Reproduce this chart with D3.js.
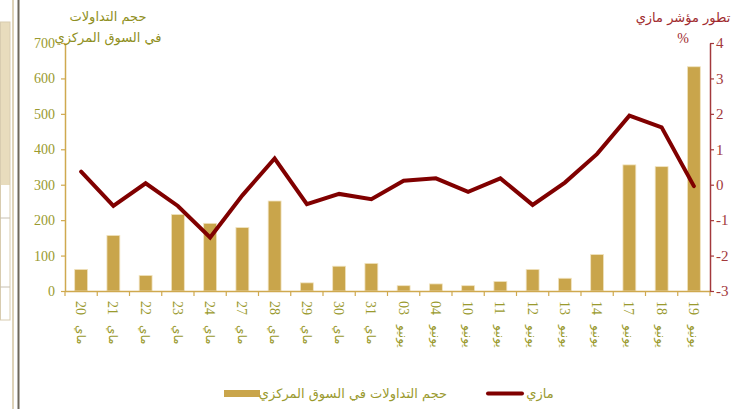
<!DOCTYPE html>
<html><head><meta charset="utf-8">
<script src="https://cdn.jsdelivr.net/npm/d3@7/dist/d3.min.js"></script>
<style>
html,body{margin:0;padding:0;background:#fff;overflow:hidden}
svg{display:block}
</style></head>
<body>
<svg id="c" width="731" height="409"></svg>
<script>
const days = ["20","21","22","23","24","27","28","29","30","31","03","04","10","11","12","13","14","17","18","19"];
const months = ["ماي","ماي","ماي","ماي","ماي","ماي","ماي","ماي","ماي","ماي","يونيو","يونيو","يونيو","يونيو","يونيو","يونيو","يونيو","يونيو","يونيو","يونيو"];
const volume = [61,157,44,216,191,179,254,23,70,78,15,20,15,27,61,36,103,356,351,633];
const mazi = [0.37,-0.60,0.04,-0.60,-1.49,-0.30,0.74,-0.55,-0.26,-0.41,0.11,0.18,-0.20,0.18,-0.57,0.06,0.87,1.95,1.62,-0.04];
const leftTicks = [0,100,200,300,400,500,600,700];
const rightTicks = [-3,-2,-1,0,1,2,3,4];
const leftTitle = ["حجم التداولات","في السوق المركزي"];
const rightTitle = ["تطور مؤشر مازي","%"];
const legendBar = "حجم التداولات في السوق المركزي";
const legendLine = "مازي";

const svg = d3.select("#c");
const L = 65, R = 710, T = 43, B = 291;
const olive = "#9a9a2e", gold = "#cfa94f", barFill = "#c9a54b", red = "#800000", redAxis = "#a3393c";
const serif = "'Liberation Serif','Times New Roman',serif";
const arab = "'DejaVu Sans',sans-serif";

// page decorations on the left
svg.append("rect").attr("x",0).attr("y",22).attr("width",10).attr("height",163).attr("fill","#e8dcbd");
svg.append("rect").attr("x",0.5).attr("y",22).attr("width",9.5).attr("height",298).attr("fill","none").attr("stroke","#d8ccb0");
svg.append("line").attr("x1",0).attr("x2",10).attr("y1",218).attr("y2",218).attr("stroke","#c8c0b0");
svg.append("line").attr("x1",0).attr("x2",10).attr("y1",287).attr("y2",287).attr("stroke","#c8c0b0");
svg.append("rect").attr("x",12).attr("y",0).attr("width",2).attr("height",409).attr("fill","#ddd2b8");
svg.append("rect").attr("x",17.5).attr("y",0).attr("width",2).attr("height",409).attr("fill","#6e685c");

const x = d3.scaleBand().domain(d3.range(days.length)).range([L,R]).paddingInner(0.6).paddingOuter(0.3);
const yL = d3.scaleLinear().domain([0,700]).range([B,T]);
const yR = d3.scaleLinear().domain([-3,4]).range([B,T]);

// bars
svg.append("g").selectAll("rect").data(volume).join("rect")
  .attr("x",(d,i)=>x(i)).attr("width",x.bandwidth())
  .attr("y",d=>yL(d)).attr("height",d=>yL(0)-yL(d))
  .attr("fill",barFill).attr("stroke","#f1e4c0").attr("stroke-width",0.8);

// x axis
const step = x.step();
const gx = svg.append("g");
gx.append("line").attr("x1",L).attr("x2",R).attr("y1",B+0.5).attr("y2",B+0.5).attr("stroke",gold).attr("stroke-width",1.5);
gx.selectAll("line.t").data(d3.range(days.length+1)).join("line").attr("class","t")
  .attr("x1",i=>L+i*step).attr("x2",i=>L+i*step).attr("y1",B).attr("y2",B+5)
  .attr("stroke",gold).attr("stroke-width",1.2);
const lab = gx.selectAll("g.l").data(days).join("g").attr("class","l")
  .attr("transform",(d,i)=>`translate(${x(i)+x.bandwidth()/2},300) rotate(90)`);
lab.append("text").text(d=>d).attr("x",1).attr("dy","0.35em")
  .attr("font-family",serif).attr("font-size",14).attr("fill",olive);
lab.append("text").text((d,i)=>months[i]).attr("x",25).attr("dy","0.35em")
  .attr("font-family",arab).attr("font-size",12).attr("fill",olive);

// left axis
const ga = svg.append("g").attr("transform",`translate(${L},0)`)
  .call(d3.axisLeft(yL).tickValues(leftTicks).tickSize(4).tickSizeOuter(0).tickPadding(6));
ga.select(".domain").attr("stroke",gold).attr("stroke-width",1.5);
ga.selectAll(".tick line").attr("stroke",gold).attr("stroke-width",1.2);
ga.selectAll(".tick text").attr("font-family",serif).attr("font-size",14).attr("fill",olive);

// right axis
const gr = svg.append("g").attr("transform",`translate(${R},0)`)
  .call(d3.axisRight(yR).tickValues(rightTicks).tickSize(4).tickSizeOuter(0).tickPadding(2).tickFormat(d=>String(d)));
gr.select(".domain").attr("stroke",redAxis).attr("stroke-width",1.5);
gr.selectAll(".tick line").attr("stroke",redAxis).attr("stroke-width",1.2);
gr.selectAll(".tick text").attr("font-family",serif).attr("font-size",15).attr("fill",redAxis);

// line
const line = d3.line().x((d,i)=>x(i)+x.bandwidth()/2).y(d=>yR(d));
svg.append("path").datum(mazi).attr("d",line).attr("fill","none")
  .attr("stroke",red).attr("stroke-width",4).attr("stroke-linejoin","miter").attr("stroke-linecap","round");

// titles
svg.append("text").text(leftTitle[0]).attr("x",108).attr("y",21).attr("text-anchor","middle")
  .attr("font-family",arab).attr("font-size",13).attr("fill","#8f8f22");
svg.append("text").text(leftTitle[1]).attr("x",108).attr("y",42).attr("text-anchor","middle")
  .attr("font-family",arab).attr("font-size",13).attr("fill","#8f8f22");
svg.append("text").text(rightTitle[0]).attr("x",683).attr("y",22).attr("text-anchor","middle")
  .attr("font-family",arab).attr("font-size",13).attr("fill","#a02a2e");
svg.append("text").text(rightTitle[1]).attr("x",683).attr("y",43).attr("text-anchor","middle")
  .attr("font-family",serif).attr("font-size",14).attr("fill","#a02a2e");

// legend
svg.append("rect").attr("x",224).attr("y",390).attr("width",36).attr("height",7).attr("fill",barFill);
svg.append("text").text(legendBar).attr("x",353).attr("y",398).attr("text-anchor","middle")
  .attr("font-family",arab).attr("font-size",13).attr("fill",olive);
svg.append("line").attr("x1",488).attr("x2",522).attr("y1",393.5).attr("y2",393.5).attr("stroke",red).attr("stroke-width",4).attr("stroke-linecap","round");
svg.append("text").text(legendLine).attr("x",540).attr("y",398).attr("text-anchor","middle")
  .attr("font-family",arab).attr("font-size",13).attr("fill",olive);
</script>
</body></html>
